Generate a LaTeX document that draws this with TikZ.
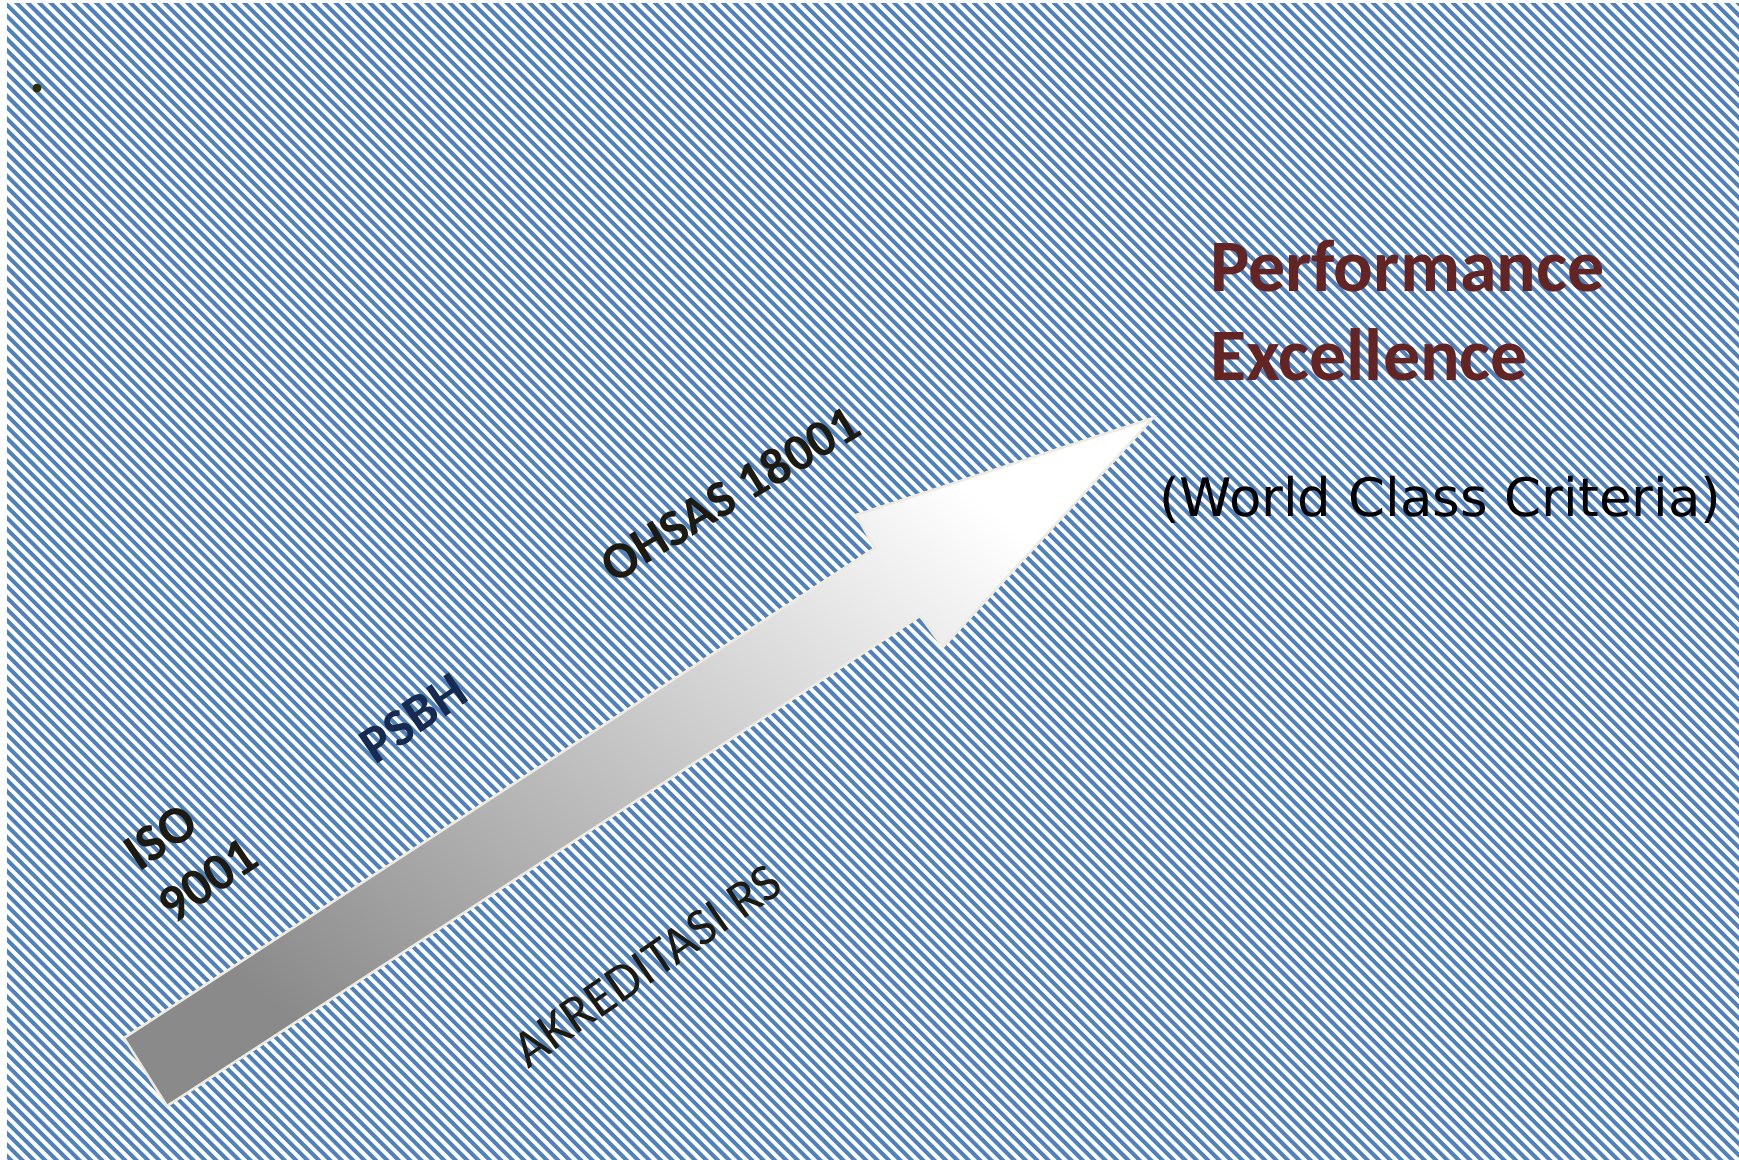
\documentclass[tikz,border=0pt]{standalone}
\usepackage{fontspec}
\newfontfamily\calib{Carlito}
\newfontfamily\verd{DejaVu Sans}
\definecolor{stripeblue}{RGB}{79,129,189}
\definecolor{arrowedge}{RGB}{238,236,225}
\definecolor{wine}{RGB}{99,37,35}
\definecolor{navy}{RGB}{23,43,80}
\definecolor{ink}{RGB}{29,27,17}
\definecolor{olive}{RGB}{46,46,0}
\begin{document}
\begin{tikzpicture}[x=1pt,y=-1pt,
  stripe/.style={draw=stripeblue,line width=3.9pt},
  label/.style={inner sep=0pt,outer sep=0pt,anchor=base west},
  boldtag/.style={label,font=\calib\bfseries\fontsize{53}{62}\selectfont,text=ink},
  headline/.style={label,font=\calib\bfseries\fontsize{74}{89}\selectfont,text=wine},
  bigarrow/.style={draw=arrowedge,line width=2.5pt,line join=miter,
    bottom color={rgb,255:red,138;green,138;blue,138},
    middle color={rgb,255:red,212;green,212;blue,212},
    top color=white,shading angle=-40}]

% page and striped backdrop
\useasboundingbox (0,0) rectangle (1739,1159);
\fill[white] (0,0) rectangle (1739,1159);
\begin{scope}
  \clip (7,3) rectangle (1739,1159);
  \foreach \c in {-1172,-1160.6,...,1745}
    \draw[stripe] (\c,0) -- ++(1165,1165);
\end{scope}

% bullet in the corner
\fill[olive] (37,88) circle (4.5);

% rising arrow
\coordinate (t1) at (124,1038);
\coordinate (j1) at (875,548);
\coordinate (b1) at (856,515);
\coordinate (tip) at (1153,418);
\coordinate (b2) at (943,647);
\coordinate (j2) at (920,616);
\coordinate (t2) at (167,1106);
\path[bigarrow] (t1) -- (j1) -- (b1) -- (tip) -- (b2) -- (j2) -- (t2) -- cycle;

% milestones along the arrow
\node[boldtag,rotate=34] (iso) at (139,872) {ISO};
\node[boldtag,rotate=34] (num) at (173,925) {9001};
\node[boldtag,rotate=34.4,text=navy] (psbh) at (375,765) {PSBH};
\node[boldtag,rotate=31,font=\calib\bfseries\fontsize{52}{62}\selectfont] (ohsas) at (614,584) {OHSAS 18001};
\node[label,rotate=34.7,text=ink,font=\calib\fontsize{53}{62}\selectfont] (akr) at (528,1069) {AKREDITASI RS};

% goal
\node[headline] (perf) at (1210,291) {Performance};
\node[headline] (exc) at (1210,380) {Excellence};
\node[label,font=\verd\fontsize{53}{62}\selectfont,text=black] (wcc) at (1159,516) {(World Class Criteria)};
\end{tikzpicture}
\end{document}
